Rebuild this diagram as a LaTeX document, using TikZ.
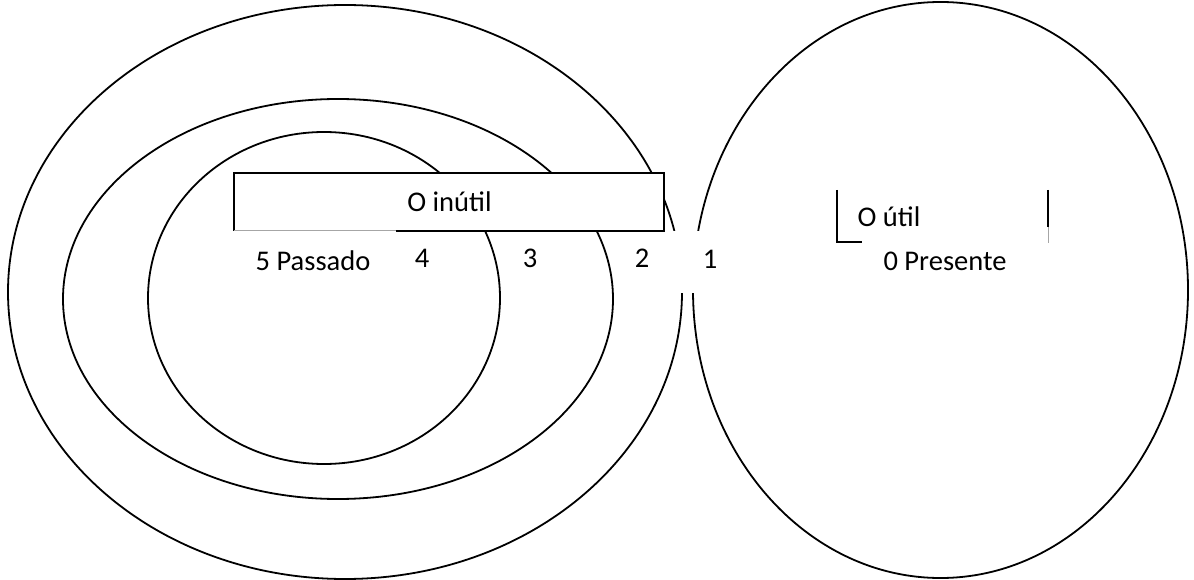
\documentclass[tikz,border=0pt]{standalone}
\usepackage{fontspec}
\setmainfont{Carlito}
\begin{document}
\begin{tikzpicture}[x=1pt,y=-1pt,
  ring/.style={draw=black,line width=1.8pt},
  frame/.style={draw=black,line width=1.8pt},
  faint/.style={draw=black!35,line width=1pt},
  cover/.style={fill=white,draw=none},
  lbl/.style={anchor=base,inner sep=0pt,font=\fontsize{28.5}{34}\selectfont}]
\useasboundingbox (0,0) rectangle (1194,580);
% the four rings
\draw[ring] (345,292) ellipse [x radius=337,y radius=287];
\draw[ring] (338,299) ellipse [x radius=275,y radius=200];
\draw[ring] (324,298) ellipse [x radius=176,y radius=166];
\draw[ring] (940.5,290) ellipse [x radius=247.5,y radius=288];
% white label areas hiding parts of the rings
\fill[cover] (234,173) rectangle (664,231);
\fill[cover] (668,231) rectangle (712,293);
% frame around "O inutil"
\coordinate (ia) at (234,231);
\coordinate (ib) at (234,173);
\coordinate (ic) at (664,173);
\coordinate (id) at (664,231);
\coordinate (ie) at (396,231);
\draw[frame] (ia) -- (ib) -- (ic) -- (id) -- (ie);
\draw[faint] (ie) -- (ia);
% open frame around "O util"
\coordinate (ua) at (837,190);
\coordinate (ub) at (837,242);
\coordinate (uc) at (862,242);
\coordinate (ud) at (1048,190);
\coordinate (ue) at (1048,227);
\coordinate (uf) at (1048,243);
\draw[frame] (ua) -- (ub) -- (uc);
\draw[frame] (ud) -- (ue);
\draw[faint] (ue) -- (uf);
% labels
\node[lbl] (inutil) at (449.5,212) {O inútil};
\node[lbl] (util) at (889,227) {O útil};
\node[lbl] (n5) at (313,270) {5 Passado};
\node[lbl] (n4) at (422,267) {4};
\node[lbl] (n3) at (530,267) {3};
\node[lbl] (n2) at (642,267) {2};
\node[lbl] (n1) at (710,268) {1};
\node[lbl] (n0) at (945,270) {0 Presente};
\end{tikzpicture}
\end{document}
